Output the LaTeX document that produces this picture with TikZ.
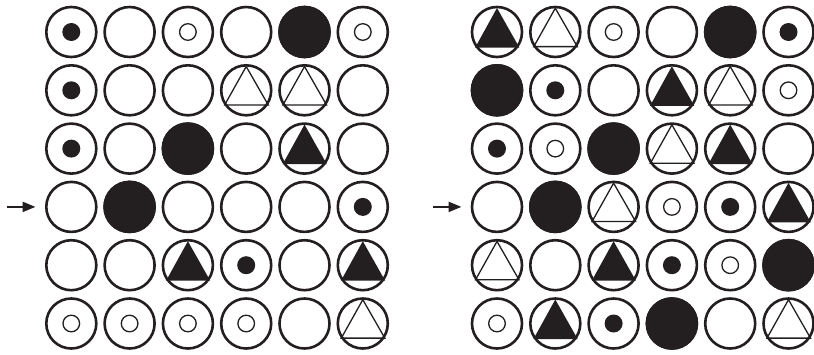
\documentclass[tikz,border=0pt]{standalone}
\usetikzlibrary{arrows.meta,calc}
\definecolor{ink}{HTML}{231F20}
\begin{document}
\begin{tikzpicture}[x=1pt,y=-1pt,
  ring/.style={draw=ink,line width=2.6pt,circle,minimum size=50pt,inner sep=0pt},
  pointer/.style={draw=ink,line width=2.2pt,-{Triangle[length=13pt,width=10pt]}}]
\useasboundingbox (0,0) rectangle (814,354);
% symbol drawing macros
\newcommand{\symE}[2]{}
\newcommand{\symD}[2]{\fill[ink] (#1,#2) circle (9);}
\newcommand{\symO}[2]{\draw[ink,line width=1.3pt] (#1,#2) circle (8.3);}
\newcommand{\symF}[2]{\fill[ink] (#1,#2) circle (26.3);}
\newcommand{\symT}[2]{\draw[ink,line width=1.3pt,line join=miter] ($(#1,#2)+(0,-23.8)$) -- ($(#1,#2)+(22,14.6)$) -- ($(#1,#2)+(-21.5,14.6)$) -- cycle;}
\newcommand{\symB}[2]{\fill[ink] ($(#1,#2)+(0,-24)$) -- ($(#1,#2)+(22.3,15.5)$) -- ($(#1,#2)+(-21.8,15.5)$) -- cycle;}
% left grid
\foreach \row [count=\r from 0] in {{D,E,O,E,F,O},{D,E,E,T,T,E},{D,E,F,E,B,E},{E,F,E,E,E,D},{E,E,B,D,E,B},{O,O,O,O,E,T}}{
  \foreach \s [count=\c from 0] in \row {
    \pgfmathsetmacro{\cx}{71.3+58.3*\c}
    \pgfmathsetmacro{\cy}{32+58.3*\r}
    \node[ring] (L-\r-\c) at (\cx,\cy) {};
    \csname sym\s\endcsname{\cx}{\cy}
  }
}
% right grid
\foreach \row [count=\r from 0] in {{B,T,O,E,F,D},{F,D,E,B,T,O},{D,O,F,T,B,E},{E,F,T,O,D,B},{T,E,B,D,O,F},{O,B,D,F,E,T}}{
  \foreach \s [count=\c from 0] in \row {
    \pgfmathsetmacro{\cx}{497+58.3*\c}
    \pgfmathsetmacro{\cy}{32+58.3*\r}
    \node[ring] (R-\r-\c) at (\cx,\cy) {};
    \csname sym\s\endcsname{\cx}{\cy}
  }
}
\coordinate (la) at (7,206.9);
\coordinate (ra) at (433,206.9);
\draw[pointer] (la) -- ++(28.5,0) coordinate (lb);
\draw[pointer] (ra) -- ++(28.5,0) coordinate (rb);
\end{tikzpicture}
\end{document}
